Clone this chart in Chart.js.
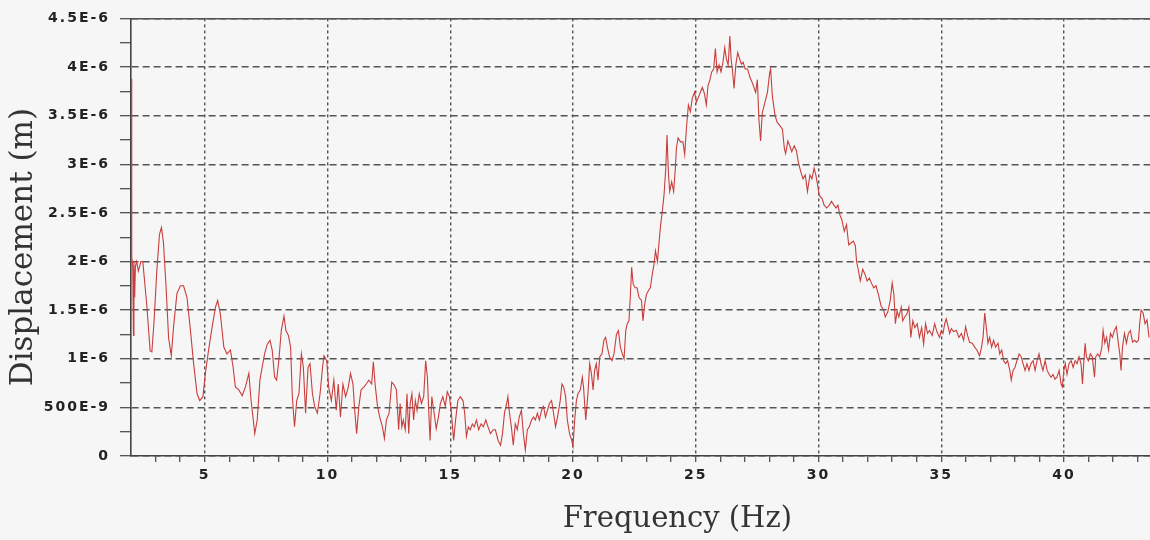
<!DOCTYPE html>
<html>
<head>
<meta charset="utf-8">
<title>Displacement spectrum</title>
<script src="https://cdn.jsdelivr.net/npm/chart.js@4.4.1/dist/chart.umd.min.js"></script>
<style>
  html, body { margin: 0; padding: 0; background: #f6f6f6; }
  canvas { display: block; }
</style>
</head>
<body>
<canvas id="myChart" width="1150" height="540"></canvas>
<script>
// frequency in Hz, displacement in micrometres
const freqHz = [
    2.00, 2.02, 2.04, 2.07, 2.10, 2.12, 2.15, 2.18, 2.23, 2.30,
    2.40, 2.48, 2.64, 2.78, 2.85, 2.94, 3.05, 3.16, 3.24, 3.32,
    3.43, 3.53, 3.64, 3.73, 3.87, 4.01, 4.14, 4.28, 4.41, 4.55,
    4.69, 4.80, 4.93, 5.03, 5.16, 5.30, 5.44, 5.53, 5.64, 5.78,
    5.91, 6.05, 6.16, 6.25, 6.39, 6.53, 6.66, 6.80, 6.89, 6.98,
    7.04, 7.14, 7.25, 7.34, 7.44, 7.55, 7.66, 7.75, 7.85, 7.93,
    8.02, 8.12, 8.23, 8.31, 8.41, 8.50, 8.57, 8.66, 8.75, 8.84,
    8.94, 9.02, 9.11, 9.21, 9.29, 9.39, 9.48, 9.59, 9.70, 9.80,
    9.86, 9.97, 10.05, 10.16, 10.26, 10.36, 10.44, 10.53, 10.63, 10.74,
    10.85, 10.94, 11.04, 11.12, 11.19, 11.28, 11.37, 11.49, 11.58, 11.69,
    11.80, 11.87, 11.94, 12.04, 12.13, 12.24, 12.32, 12.40, 12.51, 12.62,
    12.72, 12.81, 12.90, 12.96, 13.03, 13.09, 13.17, 13.24, 13.31, 13.37,
    13.44, 13.51, 13.58, 13.65, 13.74, 13.83, 13.92, 14.00, 14.07, 14.13,
    14.18, 14.25, 14.33, 14.43, 14.52, 14.60, 14.70, 14.80, 14.88, 14.97,
    15.05, 15.14, 15.22, 15.31, 15.41, 15.52, 15.59, 15.66, 15.74, 15.82,
    15.90, 15.98, 16.07, 16.16, 16.26, 16.35, 16.45, 16.54, 16.64, 16.75,
    16.84, 16.95, 17.05, 17.13, 17.21, 17.30, 17.35, 17.40, 17.49, 17.57,
    17.65, 17.73, 17.81, 17.90, 17.98, 18.06, 18.14, 18.22, 18.31, 18.39,
    18.47, 18.55, 18.63, 18.72, 18.80, 18.88, 18.96, 19.04, 19.13, 19.21,
    19.29, 19.37, 19.48, 19.55, 19.62, 19.70, 19.77, 19.86, 19.95, 20.00,
    20.07, 20.14, 20.20, 20.30, 20.38, 20.43, 20.52, 20.61, 20.68, 20.75,
    20.82, 20.88, 20.95, 21.02, 21.09, 21.18, 21.26, 21.33, 21.40, 21.49,
    21.59, 21.67, 21.77, 21.85, 21.93, 22.01, 22.08, 22.15, 22.21, 22.28,
    22.34, 22.39, 22.45, 22.53, 22.61, 22.69, 22.79, 22.85, 22.92, 22.99,
    23.07, 23.15, 23.23, 23.30, 23.36, 23.44, 23.51, 23.57, 23.64, 23.71,
    23.78, 23.83, 23.89, 23.94, 24.02, 24.10, 24.17, 24.21, 24.28, 24.38,
    24.48, 24.55, 24.62, 24.70, 24.78, 24.86, 24.95, 25.03, 25.11, 25.19,
    25.27, 25.35, 25.43, 25.50, 25.57, 25.65, 25.73, 25.80, 25.87, 25.95,
    26.03, 26.11, 26.18, 26.25, 26.32, 26.39, 26.44, 26.49, 26.56, 26.63,
    26.71, 26.79, 26.86, 26.93, 27.01, 27.11, 27.20, 27.30, 27.44, 27.51,
    27.57, 27.64, 27.71, 27.82, 27.92, 28.01, 28.05, 28.12, 28.23, 28.32,
    28.42, 28.53, 28.61, 28.66, 28.75, 28.83, 28.91, 29.01, 29.10, 29.18,
    29.28, 29.37, 29.46, 29.55, 29.65, 29.73, 29.82, 29.89, 29.96, 30.03,
    30.14, 30.23, 30.33, 30.44, 30.53, 30.63, 30.71, 30.79, 30.87, 30.95,
    31.05, 31.14, 31.23, 31.32, 31.42, 31.50, 31.55, 31.63, 31.70, 31.80,
    31.89, 31.98, 32.07, 32.17, 32.25, 32.34, 32.44, 32.55, 32.64, 32.72,
    32.82, 32.92, 33.00, 33.07, 33.13, 33.20, 33.27, 33.37, 33.43, 33.51,
    33.60, 33.68, 33.76, 33.84, 33.92, 34.02, 34.11, 34.20, 34.28, 34.36,
    34.44, 34.52, 34.63, 34.73, 34.82, 34.93, 35.00, 35.07, 35.14, 35.20,
    35.27, 35.34, 35.41, 35.50, 35.61, 35.72, 35.82, 35.91, 35.99, 36.07,
    36.15, 36.26, 36.36, 36.45, 36.56, 36.64, 36.70, 36.77, 36.83, 36.90,
    36.97, 37.05, 37.13, 37.21, 37.31, 37.38, 37.46, 37.54, 37.62, 37.70,
    37.79, 37.85, 37.92, 38.00, 38.08, 38.17, 38.25, 38.33, 38.41, 38.49,
    38.57, 38.65, 38.74, 38.82, 38.90, 38.98, 39.06, 39.14, 39.23, 39.31,
    39.39, 39.47, 39.55, 39.63, 39.71, 39.80, 39.88, 39.93, 39.99, 40.05,
    40.12, 40.20, 40.29, 40.37, 40.45, 40.53, 40.61, 40.69, 40.75, 40.80,
    40.86, 40.91, 40.99, 41.07, 41.15, 41.24, 41.29, 41.37, 41.45, 41.54,
    41.59, 41.66, 41.73, 41.81, 41.89, 41.97, 42.05, 42.13, 42.21, 42.27,
    42.32, 42.38, 42.46, 42.54, 42.62, 42.70, 42.79, 42.87, 42.95, 43.03,
    43.08, 43.14, 43.22, 43.30, 43.38, 43.46
]

const dispUm = [
    3.88, 3.23, 2.05, 1.95, 1.24, 2.00, 1.63, 1.95, 2.00, 1.90,
    2.00, 2.00, 1.56, 1.08, 1.07, 1.39, 1.90, 2.28, 2.35, 2.20,
    1.73, 1.22, 1.03, 1.32, 1.67, 1.75, 1.75, 1.63, 1.32, 0.95,
    0.64, 0.57, 0.61, 0.85, 1.09, 1.32, 1.53, 1.60, 1.46, 1.12,
    1.05, 1.09, 0.91, 0.71, 0.68, 0.62, 0.71, 0.85, 0.57, 0.37,
    0.23, 0.37, 0.78, 0.91, 1.05, 1.15, 1.19, 1.09, 0.81, 0.78,
    0.98, 1.29, 1.44, 1.29, 1.24, 1.12, 0.61, 0.30, 0.57, 0.64,
    1.05, 0.91, 0.44, 0.91, 0.95, 0.64, 0.51, 0.44, 0.64, 0.91,
    1.03, 0.98, 0.71, 0.57, 0.78, 0.47, 0.74, 0.40, 0.74, 0.61,
    0.71, 0.85, 0.74, 0.44, 0.23, 0.51, 0.68, 0.71, 0.74, 0.78,
    0.74, 0.97, 0.74, 0.51, 0.40, 0.30, 0.18, 0.37, 0.44, 0.76,
    0.73, 0.68, 0.27, 0.54, 0.30, 0.37, 0.27, 0.64, 0.23, 0.54,
    0.64, 0.37, 0.57, 0.47, 0.64, 0.54, 0.61, 0.98, 0.81, 0.44,
    0.16, 0.61, 0.47, 0.28, 0.40, 0.54, 0.61, 0.51, 0.66, 0.61,
    0.44, 0.16, 0.37, 0.57, 0.61, 0.57, 0.44, 0.20, 0.30, 0.27,
    0.33, 0.30, 0.37, 0.27, 0.33, 0.30, 0.37, 0.30, 0.23, 0.27,
    0.27, 0.16, 0.11, 0.23, 0.44, 0.54, 0.61, 0.47, 0.30, 0.11,
    0.33, 0.27, 0.40, 0.47, 0.23, 0.06, 0.27, 0.30, 0.37, 0.40,
    0.37, 0.44, 0.37, 0.47, 0.51, 0.40, 0.47, 0.54, 0.57, 0.44,
    0.30, 0.40, 0.57, 0.74, 0.71, 0.61, 0.37, 0.23, 0.16, 0.10,
    0.37, 0.57, 0.64, 0.68, 0.81, 0.71, 0.37, 0.64, 0.95, 0.85,
    0.68, 0.88, 0.95, 0.78, 1.02, 1.05, 1.19, 1.22, 1.12, 1.02,
    0.98, 1.05, 1.25, 1.29, 1.12, 1.05, 1.00, 1.29, 1.36, 1.39,
    1.66, 1.94, 1.77, 1.73, 1.73, 1.63, 1.60, 1.39, 1.56, 1.66,
    1.70, 1.73, 1.87, 1.97, 2.11, 2.00, 2.21, 2.38, 2.52, 2.69,
    2.96, 3.30, 2.89, 2.72, 2.82, 2.72, 2.96, 3.16, 3.27, 3.23,
    3.23, 3.10, 3.37, 3.61, 3.54, 3.68, 3.74, 3.64, 3.69, 3.74,
    3.79, 3.73, 3.61, 3.81, 3.86, 3.95, 3.98, 4.19, 3.95, 4.02,
    3.95, 4.05, 4.20, 4.08, 4.02, 4.32, 4.08, 3.98, 3.78, 4.02,
    4.15, 4.08, 4.03, 4.05, 3.98, 3.98, 3.90, 3.84, 3.74, 3.87,
    3.47, 3.24, 3.53, 3.64, 3.74, 3.94, 3.98, 3.70, 3.50, 3.43,
    3.40, 3.36, 3.16, 3.11, 3.24, 3.19, 3.13, 3.19, 3.14, 3.02,
    2.92, 2.85, 2.89, 2.72, 2.89, 2.85, 2.96, 2.89, 2.79, 2.68,
    2.65, 2.58, 2.55, 2.58, 2.62, 2.58, 2.55, 2.58, 2.48, 2.43,
    2.31, 2.38, 2.17, 2.19, 2.21, 2.16, 2.00, 1.90, 1.80, 1.92,
    1.87, 1.80, 1.83, 1.77, 1.73, 1.75, 1.66, 1.54, 1.51, 1.43,
    1.48, 1.60, 1.78, 1.66, 1.36, 1.49, 1.43, 1.53, 1.39, 1.43,
    1.46, 1.53, 1.22, 1.39, 1.32, 1.36, 1.22, 1.32, 1.15, 1.36,
    1.26, 1.29, 1.24, 1.36, 1.28, 1.22, 1.29, 1.26, 1.36, 1.41,
    1.34, 1.26, 1.31, 1.28, 1.29, 1.22, 1.26, 1.19, 1.33, 1.24,
    1.17, 1.16, 1.12, 1.09, 1.03, 1.12, 1.22, 1.47, 1.33, 1.16,
    1.22, 1.12, 1.19, 1.12, 1.16, 1.05, 1.09, 0.98, 0.95, 0.98,
    0.88, 0.78, 0.88, 0.91, 0.98, 1.05, 1.02, 0.95, 0.88, 0.95,
    0.88, 0.95, 0.98, 0.88, 0.98, 1.05, 0.95, 0.88, 0.98, 0.88,
    0.84, 0.81, 0.84, 0.79, 0.81, 0.88, 0.74, 0.71, 0.88, 0.95,
    0.84, 0.95, 0.98, 0.91, 0.98, 0.95, 1.02, 0.95, 0.74, 0.95,
    1.16, 1.02, 0.98, 1.05, 1.02, 0.81, 1.02, 1.05, 1.02, 1.12,
    1.29, 1.16, 1.22, 1.09, 1.26, 1.22, 1.29, 1.33, 1.16, 1.05,
    0.88, 1.12, 1.26, 1.16, 1.26, 1.29, 1.17, 1.19, 1.17, 1.19,
    1.36, 1.50, 1.47, 1.36, 1.40, 1.22
]

const xTickValues = [5, 10, 15, 20, 25, 30, 35, 40]
const xTickLabels = ['5', '10', '15', '20', '25', '30', '35', '40']
const yTickValues = [0, 0.5, 1, 1.5, 2, 2.5, 3, 3.5, 4, 4.5]
const yTickLabels = ['0', '500E-9', '1E-6', '1.5E-6', '2E-6', '2.5E-6', '3E-6', '3.5E-6', '4E-6', '4.5E-6']

const gridColor = '#555'
const axisColor = '#444'
const lineColor = 'rgb(200, 62, 60)'

// tick labels in the original are widely spaced, titles are not
const spacedLabels = {
    id: 'spacedLabels',
    afterDatasetsDraw(chart) { chart.ctx.letterSpacing = '2px' },
    afterDraw(chart) { chart.ctx.letterSpacing = '0px' }
}

const tickFont = { family: 'DejaVu Sans', size: 14, weight: 'bold' }

const ctx = document.getElementById('myChart')
new Chart(ctx, {
    type: 'line',
    data: {
        datasets: [{
            data: freqHz.map((f, i) => ({ x: f, y: dispUm[i] })),
            borderColor: lineColor,
            borderWidth: 1.1,
            pointRadius: 0,
            tension: 0,
            fill: false
        }]
    },
    options: {
        responsive: false,
        animation: false,
        devicePixelRatio: 1,
        layout: { padding: { top: 15, right: 0, bottom: 0, left: 0 } },
        plugins: {
            legend: { display: false },
            tooltip: { enabled: false }
        },
        scales: {
            x: {
                type: 'linear',
                position: 'bottom',
                min: 2,
                max: 43.5,
                afterBuildTicks: (scale) => {
                    const ticks = []
                    for (let v = 3; v <= 43; v++) ticks.push({ value: v })
                    scale.ticks = ticks
                },
                afterFit: (scale) => { scale.height = 84 },
                grid: {
                    color: (c) => xTickValues.includes(c.tick && c.tick.value) ? gridColor : 'rgba(0,0,0,0)',
                    lineWidth: 1.4,
                    tickColor: axisColor,
                    tickLength: 6,
                    tickWidth: 1.2,
                    z: -1
                },
                border: { display: true, color: axisColor, width: 1.6, dash: [3, 3] },
                ticks: {
                    autoSkip: false,
                    maxRotation: 0,
                    padding: 5,
                    color: '#222',
                    font: tickFont,
                    z: 1,
                    callback: (value) => {
                        const i = xTickValues.indexOf(value)
                        return i >= 0 ? xTickLabels[i] : ''
                    }
                },
                title: {
                    display: true,
                    text: '        Frequency (Hz)',
                    color: '#333',
                    font: { family: 'DejaVu Serif', size: 29 },
                    padding: { top: 0, bottom: 3 }
                }
            },
            x2: {
                type: 'linear',
                position: 'top',
                min: 2,
                max: 43.5,
                afterFit: (scale) => { scale.height = 0 },
                grid: { display: false, drawTicks: false },
                ticks: { display: false },
                border: { display: true, color: gridColor, width: 1.6 }
            },
            y: {
                type: 'linear',
                min: 0,
                max: 4.5,
                afterBuildTicks: (scale) => {
                    const ticks = []
                    for (let i = 0; i <= 18; i++) ticks.push({ value: i * 0.25 })
                    scale.ticks = ticks
                },
                afterFit: (scale) => { scale.width = 131 },
                grid: {
                    color: (c) => yTickValues.includes(c.tick && c.tick.value) ? gridColor : 'rgba(0,0,0,0)',
                    lineWidth: 1.4,
                    tickColor: axisColor,
                    tickLength: 11,
                    tickWidth: 1.2,
                    z: -1
                },
                border: { display: true, color: axisColor, width: 1.6, dash: [7, 4] },
                ticks: {
                    autoSkip: false,
                    padding: 10,
                    color: '#222',
                    font: tickFont,
                    z: 1,
                    callback: (value) => {
                        const i = yTickValues.indexOf(value)
                        return i >= 0 ? yTickLabels[i] : ''
                    }
                },
                title: {
                    display: true,
                    text: 'Displacement (m)  ',
                    color: '#333',
                    font: { family: 'DejaVu Serif', size: 31 },
                    padding: { top: 5, bottom: 0 }
                }
            }
        }
    },
    plugins: [spacedLabels]
})
</script>
</body>
</html>
